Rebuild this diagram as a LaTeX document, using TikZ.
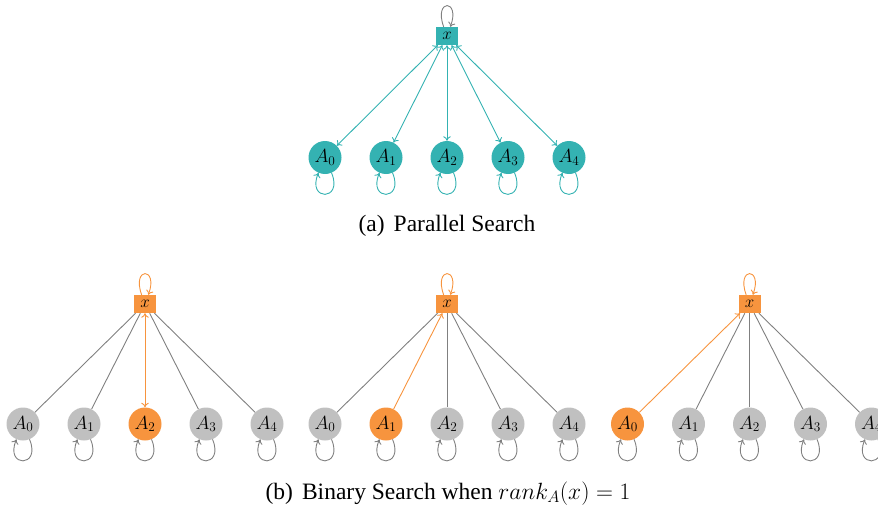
\RequirePackage{fix-cm}
\documentclass[tikz,border=0pt]{standalone}
\usepackage[no-math]{fontspec}
\setmainfont{Liberation Serif}
\usetikzlibrary{arrows.meta}
\definecolor{tealc}{RGB}{52,178,178}
\definecolor{orangec}{RGB}{247,148,62}
\definecolor{grayfill}{RGB}{192,192,192}
\definecolor{grayline}{RGB}{128,128,128}
\tikzset{
  agent/.style={circle, minimum size=33pt, inner sep=0pt, font=\fontsize{19}{22}\selectfont},
  xbox/.style={rectangle, minimum width=22pt, minimum height=18pt, inner sep=0pt, font=\fontsize{17}{20}\selectfont},
  edgeline/.style={line width=0.9pt},
  loopdown/.style={line width=0.9pt, ->, out=293, in=247, min distance=31pt},
  loopup/.style={line width=0.9pt, ->, out=110, in=70, min distance=30pt},
  captext/.style={anchor=base, font=\fontsize{23.5}{28}\selectfont},
  >={To[length=4.5pt,width=7.5pt]}
}
\begin{document}
\begin{tikzpicture}[x=1pt,y=-1pt]
\useasboundingbox (0,0) rectangle (878,506);
% ---------- (a) Parallel search ----------
\node[xbox, fill=tealc] (ax) at (447,36) {$x$};
\draw[grayline, loopup] (ax) to (ax);
\foreach \i in {0,...,4} {
  \node[agent, fill=tealc] (a\i) at ({325+61*\i},157.5) {$A_\i$};
  \draw[tealc, edgeline, <->] (ax) -- (a\i);
  \draw[tealc, loopdown] (a\i) to (a\i);
}
\node[captext] (capa) at (447,231) {(a)\hspace{9pt}Parallel Search};
% ---------- (b) Binary search ----------
\foreach \p/\cx/\h in {1/145/2, 2/447/1, 3/749.5/0} {
  \node[xbox, fill=orangec] (x\p) at (\cx,304) {$x$};
  \draw[orangec, loopup] (x\p) to (x\p);
  \foreach \i in {0,...,4} {
    \ifnum\i=\h
      \node[agent, fill=orangec] (b\p\i) at ({\cx+61*(\i-2)},424) {$A_\i$};
    \else
      \node[agent, fill=grayfill] (b\p\i) at ({\cx+61*(\i-2)},424) {$A_\i$};
      \draw[grayline, edgeline] (x\p) -- (b\p\i);
    \fi
    \draw[grayline, loopdown] (b\p\i) to (b\p\i);
  }
}
\draw[orangec, edgeline, <->] (x1) -- (b12);
\draw[orangec, edgeline, ->] (b21) -- (x2);
\draw[orangec, edgeline, ->] (b30) -- (x3);
\node[captext] (capb) at (448,499) {(b)\hspace{9pt}Binary Search when $rank_A(x) = 1$};
\end{tikzpicture}
\end{document}
